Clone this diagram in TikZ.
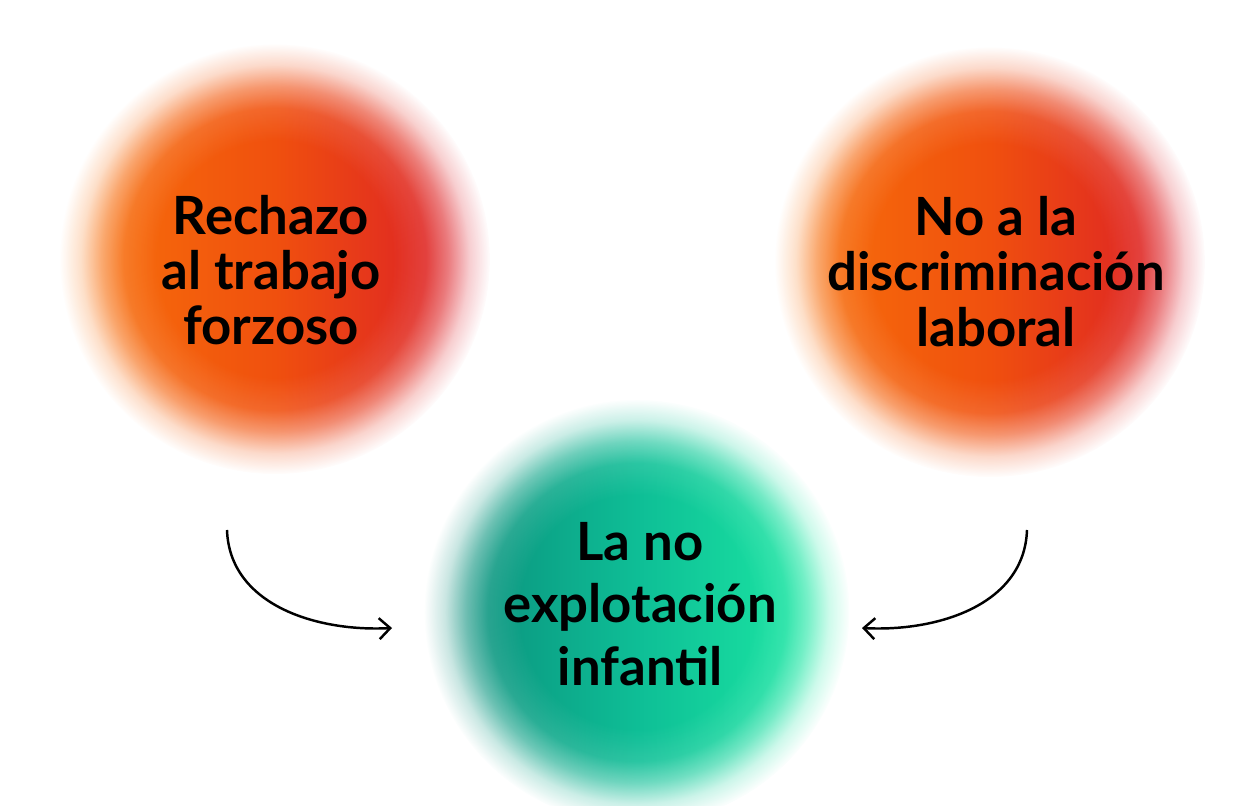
\documentclass[tikz,border=0pt]{standalone}
\usepackage{fontspec}
\setmainfont{Lato}
\usetikzlibrary{arrows.meta,calc,backgrounds,fadings}
\definecolor{cOrangeL}{HTML}{F8740A}
\definecolor{cOrangeM}{HTML}{F0500E}
\definecolor{cCrimson}{HTML}{D8162C}
\definecolor{cTealL}{HTML}{0A8677}
\definecolor{cTealM}{HTML}{0EBE96}
\definecolor{cMintR}{HTML}{1EF0A6}
\pgfdeclareradialshading{softshade}{\pgfpointorigin}{%
  color(0bp)=(white); color(13.75bp)=(white); color(17.5bp)=(white!88!black);
  color(20bp)=(white!60!black); color(22.5bp)=(white!22!black);
  color(25bp)=(black); color(50bp)=(black)}
\pgfdeclarefading{softdisc}{\pgfuseshading{softshade}}
\tikzset{
  lbl/.style       = {align=center, inner sep=0pt,
                      font=\fontsize{30}{31.5}\selectfont\bfseries},
  redball/.style   = {path fading=softdisc, left color=cOrangeL,
                      right color=cCrimson, middle color=cOrangeM},
  greenball/.style = {path fading=softdisc, left color=cTealL,
                      right color=cMintR, middle color=cTealM},
  curvearr/.style  = {line width=1.4pt, -{Straight Barb[length=2.2mm,width=4.2mm]}},
}

\begin{document}
\begin{tikzpicture}
  \useasboundingbox (0,0) rectangle (25.02,-16.12);
  \node[lbl] (rechazo) at (5.42,-5.40) {Rechazo\\al trabajo\\forzoso};
  \node[lbl] (discrim) at (19.92,-5.43) {No a la\\discriminación\\laboral};
  \node[lbl, font=\fontsize{30}{35.5}\selectfont\bfseries] (infantil) at (12.8,-12.08)
    {La no\\explotación\\infantil};
  \begin{scope}[on background layer]
    \shade[redball] ($(rechazo)+(0.08,0.22)$) circle (4.3);
    \shade[redball] ($(discrim)+(-0.12,0.19)$) circle (4.3);
    \shade[greenball] ($(infantil)+(-0.06,-0.16)$) circle (4.25);
  \end{scope}
  \coordinate (la) at (4.54,-10.6);
  \coordinate (lb) at (7.84,-12.56);
  \coordinate (ra) at (20.54,-10.6);
  \coordinate (rb) at (17.24,-12.56);
  \draw[curvearr] (la) to[out=-88,in=183] (lb);
  \draw[curvearr] (ra) to[out=-92,in=-3] (rb);
\end{tikzpicture}
\end{document}
